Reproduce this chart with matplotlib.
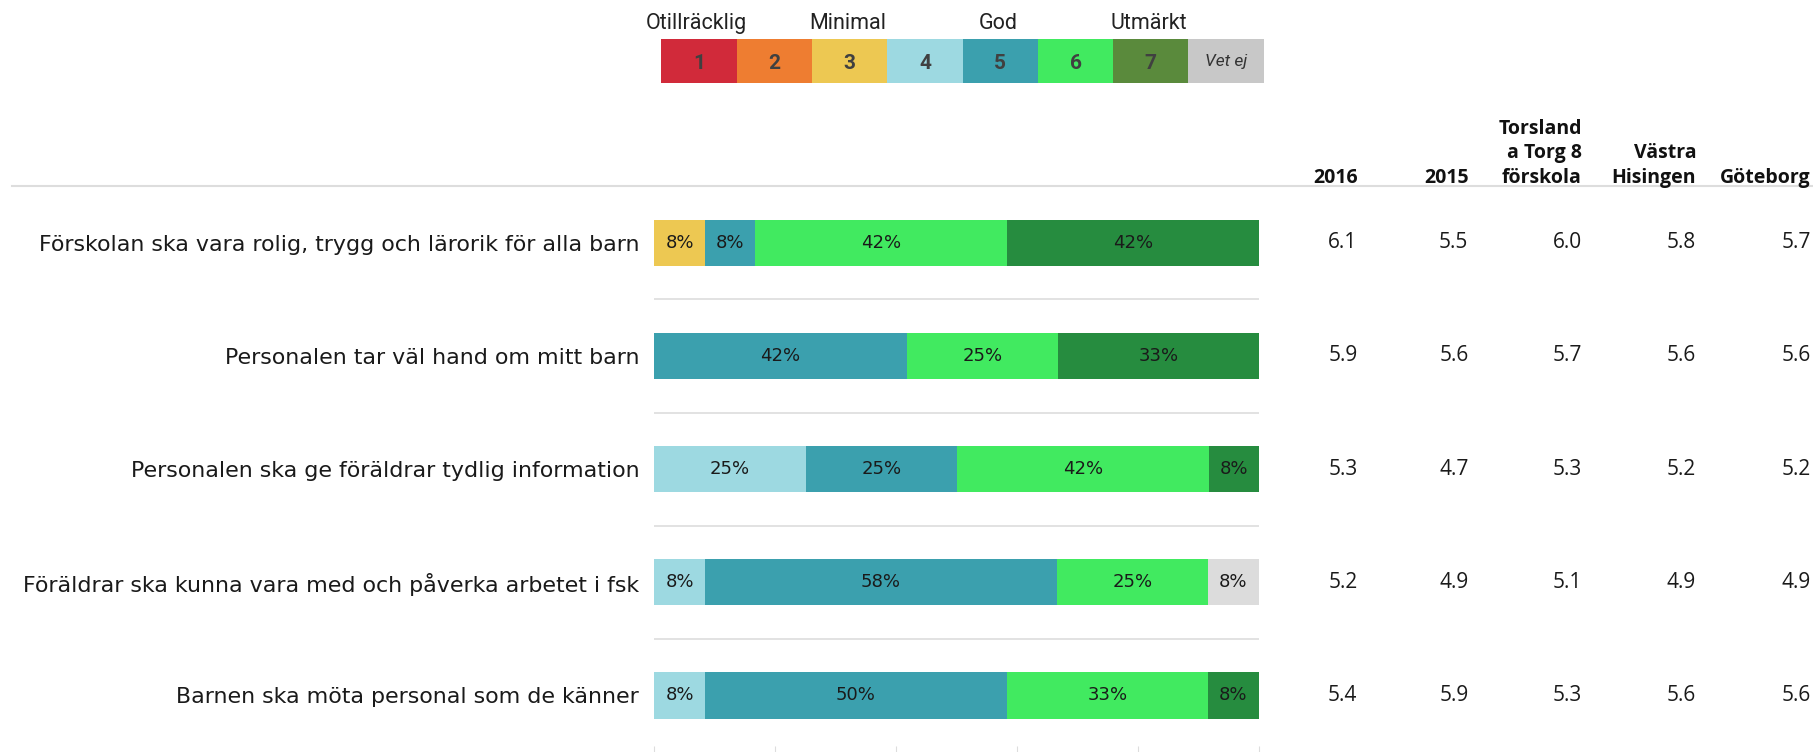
import matplotlib
matplotlib.use("Agg")
import matplotlib.pyplot as plt
import matplotlib.transforms as mtransforms
from matplotlib.lines import Line2D
import numpy as np

# questions (top to bottom)
questions = [
    "Förskolan ska vara rolig, trygg och lärorik för alla barn",
    "Personalen tar väl hand om mitt barn",
    "Personalen ska ge föräldrar tydlig information",
    "Föräldrar ska kunna vara med och påverka arbetet i fsk",
    "Barnen ska möta personal som de känner",
]

# answer categories 1..7 + Vet ej
categories = ["1", "2", "3", "4", "5", "6", "7", "Vet ej"]
cat_colors = ["#D12A3A", "#EE7D31", "#EDC852", "#9DD9E1", "#3BA0AE", "#41EA60", "#268C3F", "#DCDCDC"]
legend_colors = ["#D12A3A", "#EE7D31", "#EDC852", "#9DD9E1", "#3BA0AE", "#41EA60", "#5A8A3C", "#C8C8C8"]
scale_names = {0: "Otillräcklig", 2: "Minimal", 4: "God", 6: "Utmärkt"}

# percent per category for each question
shares = [
    [0, 0, 8.3, 0, 8.3, 41.7, 41.7, 0],
    [0, 0, 0, 0, 41.7, 25.0, 33.3, 0],
    [0, 0, 0, 25.0, 25.0, 41.7, 8.3, 0],
    [0, 0, 0, 8.3, 58.3, 25.0, 0, 8.3],
    [0, 0, 0, 8.3, 50.0, 33.3, 8.3, 0],
]

# average columns
col_heads = ["2016", "2015", "Torsland\na Torg 8\nförskola", "Västra\nHisingen", "Göteborg"]
avg_2016 = [6.1, 5.9, 5.3, 5.2, 5.4]
avg_2015 = [5.5, 5.6, 4.7, 4.9, 5.9]
avg_unit = [6.0, 5.7, 5.3, 5.1, 5.3]
avg_vh = [5.8, 5.6, 5.2, 4.9, 5.6]
avg_gbg = [5.7, 5.6, 5.2, 4.9, 5.6]
averages = [avg_2016, avg_2015, avg_unit, avg_vh, avg_gbg]

W, H = 1568.0, 650.0  # layout grid
def fx(x): return x / W
def fy(y): return 1 - y / H

fig = plt.figure(figsize=(18.13, 7.52), dpi=100)
txt_font = ["DejaVu Sans"]
head_font = ["Open Sans", "DejaVu Sans"]
narrow_font = ["Roboto", "DejaVu Sans"]

# legend strip
lax = fig.add_axes([fx(572), fy(72), fx(1093) - fx(572), (72 - 34) / H])
lax.bar(np.arange(len(categories)), [1] * len(categories), width=1.0, color=legend_colors, align="edge")
lax.set_xlim(0, len(categories))
lax.set_ylim(0, 1)
lax.axis("off")
for i, c in enumerate(categories):
    if c == "Vet ej":
        lax.text(i + 0.5, 0.5, c, ha="center", va="center", fontsize=12.5, style="italic",
                 color="#333333", family=narrow_font)
    else:
        lax.text(i + 0.5, 0.45, c, ha="center", va="center", fontsize=15, fontweight="bold",
                 color="#404040", family=narrow_font)
for i, name in scale_names.items():
    lax.text(i + 0.47, 1.12, name, ha="center", va="bottom", fontsize=15.5, color="#222222",
             family=narrow_font)

# stacked bars
ax = fig.add_axes([fx(566), 0.0, fx(1089) - fx(566), fy(161)])
y = np.arange(len(questions))
data = np.array(shares)
left = np.zeros(len(questions))
for j in range(len(categories)):
    vals = data[:, j]
    ax.barh(y, vals, left=left, height=0.41, color=cat_colors[j])
    for i, v in enumerate(vals):
        if v > 0:
            ax.text(left[i] + v / 2, i, f"{v:.0f}%", ha="center", va="center",
                    fontsize=13, color="#1a1a1a", family=txt_font)
    left += vals
ax.set_xlim(0, 100)
ax.set_ylim(len(questions) - 0.5, -0.5)
for s in ax.spines.values():
    s.set_visible(False)
for k in range(len(questions) - 1):
    ax.axhline(k + 0.5, color="#DDDDDD", lw=1.2)
ax.set_xticks([0, 20, 40, 60, 80, 100])
ax.set_xticklabels([])
ax.tick_params(axis="x", direction="in", length=4, color="#DDDDDD")
ax.set_yticks(y)
ax.set_yticklabels(questions, fontsize=15.9, family=txt_font, color="#1a1a1a")
ax.tick_params(axis="y", length=0, pad=11)

# header line
fig.add_artist(Line2D([fx(10), 1.0], [fy(161), fy(161)], color="#DDDDDD", lw=1.5))

# average columns
col_right = [1174, 1270, 1368, 1467, 1566]
trans = mtransforms.blended_transform_factory(fig.transFigure, ax.transData)
for xr, head, vals in zip(col_right, col_heads, averages):
    fig.text(fx(xr), fy(158), head, ha="right", va="baseline", fontsize=14,
             fontweight="bold", family=head_font, color="#111111", multialignment="right",
             linespacing=1.3)
    for i, v in enumerate(vals):
        fig.text(fx(xr), i, f"{v:.1f}", transform=trans, ha="right", va="center",
                 fontsize=15, family=head_font, color="#1a1a1a")

fig.savefig("out.png", dpi=100)
